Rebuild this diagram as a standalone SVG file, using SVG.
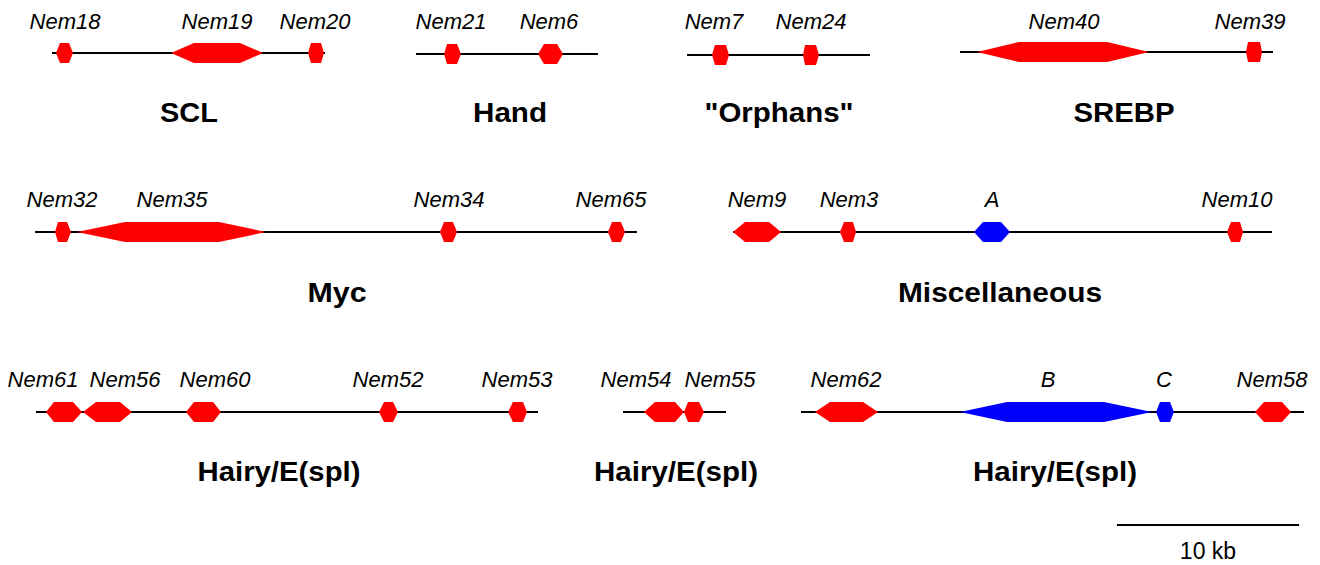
<svg xmlns="http://www.w3.org/2000/svg" width="1320" height="565" viewBox="0 0 1320 565">
<style>
.bg{fill:#ffffff}
.ln{stroke:#000000;stroke-width:2;fill:none}
.r{fill:#ff0000}
.b{fill:#0000ff}
.gl{font-family:"Liberation Sans",Arial,sans-serif;font-style:italic;font-size:22px;fill:#000000;text-anchor:middle}
.fl{font-family:"Liberation Sans",Arial,sans-serif;font-weight:bold;font-size:27px;fill:#000000;text-anchor:middle}
.sl{font-family:"Liberation Sans",Arial,sans-serif;font-size:23px;fill:#000000;text-anchor:middle}
</style>
<rect class="bg" x="0" y="0" width="1320" height="565"/>
<g id="connectors">
<line class="ln" x1="52" y1="53" x2="325" y2="53"/>
<line class="ln" x1="416" y1="54" x2="598" y2="54"/>
<line class="ln" x1="687" y1="55" x2="870" y2="55"/>
<line class="ln" x1="960" y1="52" x2="1273" y2="52"/>
<line class="ln" x1="35" y1="232" x2="637" y2="232"/>
<line class="ln" x1="733" y1="232" x2="1272" y2="232"/>
<line class="ln" x1="36" y1="412" x2="538" y2="412"/>
<line class="ln" x1="623" y1="412" x2="726" y2="412"/>
<line class="ln" x1="801" y1="412" x2="1304" y2="412"/>
<line class="ln" x1="1117" y1="525" x2="1299" y2="525"/>
</g>
<g id="SCL">
<g id="Nem18"><polygon class="r" points="56,53 60,43 69,43 73,53 69,63 60,63"/><text class="gl" x="65" y="29">Nem18</text></g>
<g id="Nem19"><polygon class="r" points="171,53 194,43 240,43 263,53 240,63 194,63"/><text class="gl" x="217" y="29">Nem19</text></g>
<g id="Nem20"><polygon class="r" points="308,53 311,43 321,43 324,53 321,63 311,63"/><text class="gl" x="315" y="29">Nem20</text></g>
<text class="fl" x="189" y="122" textLength="58" lengthAdjust="spacingAndGlyphs">SCL</text>
</g>
<g id="Hand">
<g id="Nem21"><polygon class="r" points="444,54 447,44 457,44 461,54 457,64 447,64"/><text class="gl" x="451" y="29">Nem21</text></g>
<g id="Nem6"><polygon class="r" points="538,54 544,44 557,44 563,54 557,64 544,64"/><text class="gl" x="549" y="29">Nem6</text></g>
<text class="fl" x="510" y="122" textLength="74" lengthAdjust="spacingAndGlyphs">Hand</text>
</g>
<g id="Orphans">
<g id="Nem7"><polygon class="r" points="712,55 715,45 726,45 729,55 726,65 715,65"/><text class="gl" x="714" y="29">Nem7</text></g>
<g id="Nem24"><polygon class="r" points="803,55 805,45 816,45 819,55 816,65 805,65"/><text class="gl" x="811" y="29">Nem24</text></g>
<text class="fl" x="779" y="122" textLength="149" lengthAdjust="spacingAndGlyphs">"Orphans"</text>
</g>
<g id="SREBP">
<g id="Nem40"><polygon class="r" points="977,52 1019,42 1107,42 1149,52 1107,62 1019,62"/><text class="gl" x="1064" y="29">Nem40</text></g>
<g id="Nem39"><polygon class="r" points="1246,52 1248,42 1260,42 1262,52 1260,62 1248,62"/><text class="gl" x="1250" y="29">Nem39</text></g>
<text class="fl" x="1124" y="122" textLength="101" lengthAdjust="spacingAndGlyphs">SREBP</text>
</g>
<g id="Myc">
<g id="Nem32"><polygon class="r" points="55,232 58,222 67,222 71,232 67,242 58,242"/><text class="gl" x="62" y="207">Nem32</text></g>
<g id="Nem35"><polygon class="r" points="77,232 125,222 219,222 266,232 219,242 125,242"/><text class="gl" x="172" y="207">Nem35</text></g>
<g id="Nem34"><polygon class="r" points="440,232 444,222 453,222 457,232 453,242 444,242"/><text class="gl" x="449" y="207">Nem34</text></g>
<g id="Nem65"><polygon class="r" points="608,232 612,222 621,222 625,232 621,242 612,242"/><text class="gl" x="611" y="207">Nem65</text></g>
<text class="fl" x="337" y="302" textLength="59" lengthAdjust="spacingAndGlyphs">Myc</text>
</g>
<g id="Miscellaneous">
<g id="Nem9"><polygon class="r" points="733,232 745,222 769,222 781,232 769,242 745,242"/><text class="gl" x="757" y="207">Nem9</text></g>
<g id="Nem3"><polygon class="r" points="840,232 844,222 853,222 856,232 853,242 844,242"/><text class="gl" x="849" y="207">Nem3</text></g>
<g id="A"><polygon class="b" points="974,232 983,222 1001,222 1010,232 1001,242 983,242"/><text class="gl" x="992" y="207">A</text></g>
<g id="Nem10"><polygon class="r" points="1227,232 1231,222 1240,222 1243,232 1240,242 1231,242"/><text class="gl" x="1237" y="207">Nem10</text></g>
<text class="fl" x="1000" y="302" textLength="204" lengthAdjust="spacingAndGlyphs">Miscellaneous</text>
</g>
<g id="Hairy1">
<g id="Nem61"><polygon class="r" points="46,412 54,402 73,402 82,412 73,422 54,422"/><text class="gl" x="43" y="387">Nem61</text></g>
<g id="Nem56"><polygon class="r" points="83,412 96,402 120,402 132,412 120,422 96,422"/><text class="gl" x="125" y="387">Nem56</text></g>
<g id="Nem60"><polygon class="r" points="186,412 194,402 213,402 221,412 213,422 194,422"/><text class="gl" x="215" y="387">Nem60</text></g>
<g id="Nem52"><polygon class="r" points="379,412 384,402 393,402 398,412 393,422 384,422"/><text class="gl" x="388" y="387">Nem52</text></g>
<g id="Nem53"><polygon class="r" points="508,412 513,402 523,402 527,412 523,422 513,422"/><text class="gl" x="517" y="387">Nem53</text></g>
<text class="fl" x="279" y="481" textLength="163" lengthAdjust="spacingAndGlyphs">Hairy/E(spl)</text>
</g>
<g id="Hairy2">
<g id="Nem54"><polygon class="r" points="644,412 655,402 675,402 684,412 675,422 655,422"/><text class="gl" x="636" y="387">Nem54</text></g>
<g id="Nem55"><polygon class="r" points="684,412 688,402 699,402 704,412 699,422 688,422"/><text class="gl" x="720" y="387">Nem55</text></g>
<text class="fl" x="676" y="481" textLength="164" lengthAdjust="spacingAndGlyphs">Hairy/E(spl)</text>
</g>
<g id="Hairy3">
<g id="Nem62"><polygon class="r" points="815,412 830,402 863,402 878,412 863,422 830,422"/><text class="gl" x="846" y="387">Nem62</text></g>
<g id="B"><polygon class="b" points="960,412 1007,402 1104,402 1152,412 1104,422 1007,422"/><text class="gl" x="1048" y="387">B</text></g>
<g id="C"><polygon class="b" points="1156,412 1160,402 1170,402 1174,412 1170,422 1160,422"/><text class="gl" x="1164" y="387">C</text></g>
<g id="Nem58"><polygon class="r" points="1255,412 1264,402 1282,402 1291,412 1282,422 1264,422"/><text class="gl" x="1272" y="387">Nem58</text></g>
<text class="fl" x="1055" y="481" textLength="164" lengthAdjust="spacingAndGlyphs">Hairy/E(spl)</text>
</g>
<g id="scalebar">
<text class="sl" x="1208" y="559">10 kb</text>
</g>
</svg>
